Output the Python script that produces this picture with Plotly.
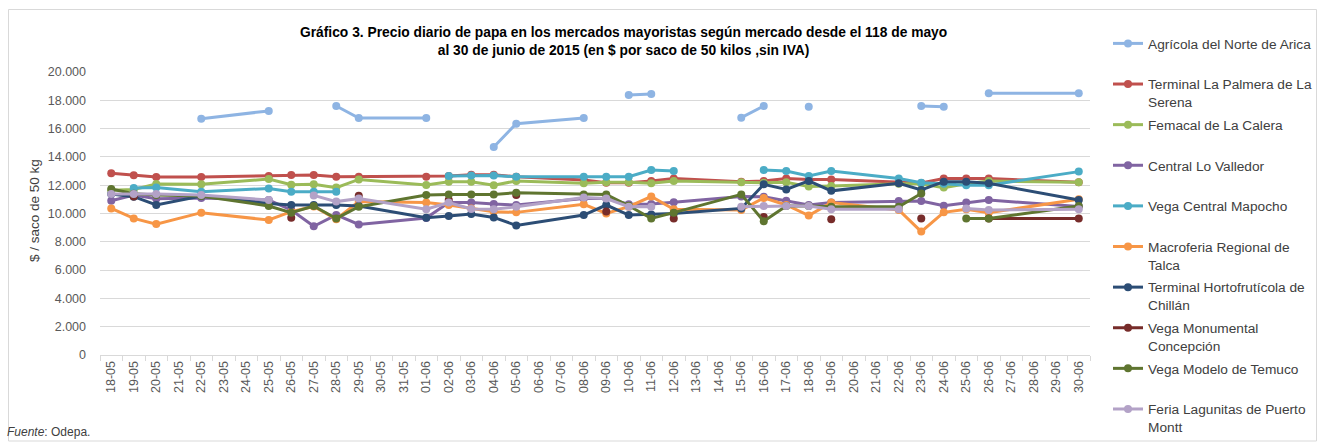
import plotly.graph_objects as go

# All calendar days on the axis
all_days = ["18-05", "19-05", "20-05", "21-05", "22-05", "23-05", "24-05", "25-05", "26-05", "27-05",
            "28-05", "29-05", "30-05", "31-05",
            "01-06", "02-06", "03-06", "04-06", "05-06", "06-06", "07-06", "08-06", "09-06", "10-06",
            "11-06", "12-06", "13-06", "14-06", "15-06", "16-06", "17-06", "18-06", "19-06", "20-06",
            "21-06", "22-06", "23-06", "24-06", "25-06", "26-06", "27-06", "28-06", "29-06", "30-06"]

# Trading days (rows with data)
dates = ["18-05", "19-05", "20-05", "22-05", "25-05", "26-05", "27-05", "28-05", "29-05",
         "01-06", "02-06", "03-06", "04-06", "05-06", "08-06", "09-06", "10-06", "11-06", "12-06",
         "15-06", "16-06", "17-06", "18-06", "19-06", "22-06", "23-06", "24-06", "25-06", "26-06", "30-06"]

N = None
arica = [N, N, N, 16700, 17250, N, N, 17600, 16750,
         16750, N, N, 14700, 16350, 16750, N, 18370, 18450, N,
         16770, 17600, N, 17550, N, N, 17600, 17550, N, 18500, 18500]
palmera = [12850, 12700, 12580, 12580, 12650, 12720, 12720, 12600, 12600,
           12600, 12650, 12740, 12740, 12600, 12370, 12180, 12180, 12300, 12470,
           12250, 12300, 12470, 12410, 12410, 12180, 12150, 12470, 12470, 12470, 12200]
femacal = [11650, 11700, 12080, 12060, 12440, 12040, 12060, 11830, 12410,
           12010, 12250, 12250, 12000, 12300, 12130, 12200, 12200, 12130, 12300,
           12200, 12170, 12200, 11900, 11940, 12100, 12100, 11830, 12100, 12300, 12200]
valledor = [10900, 11300, 11050, 11100, 10950, 10250, 9100, 9900, 9230,
            9680, 10770, 10770, 10670, 10600, 11060, 11060, 10650, 10670, 10790,
            11200, 11190, 10900, 10600, 10770, 10880, 10880, 10550, 10770, 10950, 10500]
mapocho = [N, 11800, 11830, 11540, 11770, 11540, 11540, 11540, N,
           N, 12650, 12680, 12680, 12600, 12600, 12600, 12600, 13070, 13000,
           N, 13070, 13000, 12650, 13000, 12470, 12180, 12100, 12000, 12000, 12960]
talca = [10360, 9650, 9250, 10060, 9540, 10130, 10500, 9600, 10840,
         10780, 10600, 10350, 10130, 10080, 10650, 10000, 10480, 11200, 10300,
         10250, 11100, 10600, 9850, 10770, 10250, 8720, 10080, 10300, 10060, 11000]
chillan = [11370, 11190, 10600, 11240, 10700, 10600, 10600, 10600, 10530,
           9700, 9820, 9960, 9720, 9160, 9890, 10600, 9890, 9930, 10000,
           10360, 12060, 11700, 12300, 11600, 12130, 11660, 12250, 12250, 12130, 10950]
concepcion = [N, 11200, N, N, N, 9700, N, N, 11250,
              N, 10950, N, N, 11300, N, 10150, N, N, 9650,
              N, 9750, N, N, 9600, N, 9650, N, N, 9650, 9650]
temuco = [11730, 11400, 11300, 11240, 10530, 10060, 10530, 9650, 10480,
          11310, 11350, 11350, 11350, 11470, 11350, 11350, 10550, 9650, 10060,
          11350, 9450, 10530, 10530, 10480, 10480, 11410, N, 9650, 9650, 10530]
lagunitas = [11370, 11370, 11370, 11310, 10950, N, 11280, 10840, 11060,
             10300, 10770, 10320, 10300, 10480, 11130, 11060, 10480, 10480, N,
             10480, 10530, 10530, 10530, 10300, 10300, N, N, 10360, 10250, 10300]

series_names = ["Agrícola del Norte de Arica", "Terminal La Palmera de La<br>Serena",
                "Femacal de La Calera", "Central Lo Valledor", "Vega Central Mapocho",
                "Macroferia Regional de<br>Talca", "Terminal Hortofrutícola de<br>Chillán",
                "Vega Monumental<br>Concepción", "Vega Modelo de Temuco",
                "Feria Lagunitas de Puerto<br>Montt"]
series_values = [arica, palmera, femacal, valledor, mapocho, talca, chillan, concepcion, temuco, lagunitas]
series_colors = ["#8EB4E3", "#C0504D", "#9BBB59", "#8064A2", "#4BACC6",
                 "#F79646", "#2C4D75", "#772C2A", "#5F7530", "#B3A2C7"]

FONT = "Liberation Sans, Arial, sans-serif"

fig = go.Figure()
for i, (name, vals, col) in enumerate(zip(series_names, series_values, series_colors)):
    label = name if "<br>" in name else name + "<br> "
    fig.add_trace(go.Scatter(
        x=dates, y=vals, name=label, mode="lines+markers",
        line=dict(color=col, width=3),
        marker=dict(color=col, size=8),
        connectgaps=False, legendgroup=f"g{i}",
    ))

# plot area pixels: x 100..1090, y 72..355
def px(x):
    return (x - 100) / 990.0

def py(y):
    return (355 - y) / 283.0

fig.update_layout(
    width=1318, height=443,
    margin=dict(l=100, r=228, t=72, b=88, autoexpand=False),
    paper_bgcolor="white", plot_bgcolor="white",
    separators=",.",
    font=dict(family=FONT, size=12, color="#595959"),
    showlegend=True,
    legend=dict(x=px(1108), y=py(28), xanchor="left", yanchor="top",
                font=dict(family=FONT, size=13.7, color="#404040"),
                valign="top", tracegroupgap=2, itemwidth=30, maxheight=430,
                bgcolor="rgba(0,0,0,0)"),
    xaxis=dict(type="category", categoryorder="array", categoryarray=all_days,
               range=[-0.5, len(all_days) - 0.5],
               tickmode="array", tickvals=all_days, ticktext=all_days,
               tickangle=-90, tickfont=dict(family=FONT, size=12.5, color="#595959"),
               ticks="outside", tickson="boundaries", ticklen=5, tickcolor="#d9d9d9",
               showline=True, linecolor="#d9d9d9", linewidth=1,
               showgrid=False, zeroline=False, fixedrange=True, automargin=False),
    yaxis=dict(range=[0, 20000], dtick=2000, tickformat=",d",
               tickfont=dict(family=FONT, size=12.5, color="#595959"),
               showgrid=True, gridcolor="#d9d9d9", gridwidth=1,
               zeroline=False, showline=False, ticks="", ticklabelstandoff=13,
               fixedrange=True, automargin=False),
    annotations=[
        dict(text="<b>Gráfico 3. Precio diario de papa en los mercados mayoristas según mercado desde el 118 de mayo<br>"
                  "al 30 de junio de 2015 (en $ por saco de 50 kilos ,sin IVA)</b>",
             x=px(623), y=py(41.5), xref="paper", yref="paper", showarrow=False,
             xanchor="center", yanchor="middle", align="center",
             font=dict(family=FONT, size=13.8, color="#000000")),
        dict(text="$ / saco de 50 kg", x=px(34), y=py(211), xref="paper", yref="paper",
             showarrow=False, textangle=-90, xanchor="center", yanchor="middle",
             font=dict(family=FONT, size=13.5, color="#404040")),
        dict(text="<i>Fuente</i>: Odepa.", x=px(5), y=py(432), xref="paper", yref="paper",
             showarrow=False, xanchor="left", yanchor="middle",
             font=dict(family=FONT, size=12, color="#404040")),
    ],
    shapes=[dict(type="rect", xref="paper", yref="paper",
                 x0=px(8.5), x1=px(1316.5), y0=py(441), y1=py(9.5),
                 line=dict(color="#d9d9d9", width=1), layer="below")],
)

fig.write_html("out.html", config={"displayModeBar": False},
               post_script="document.body.style.margin='0';document.body.style.overflow='hidden';")
